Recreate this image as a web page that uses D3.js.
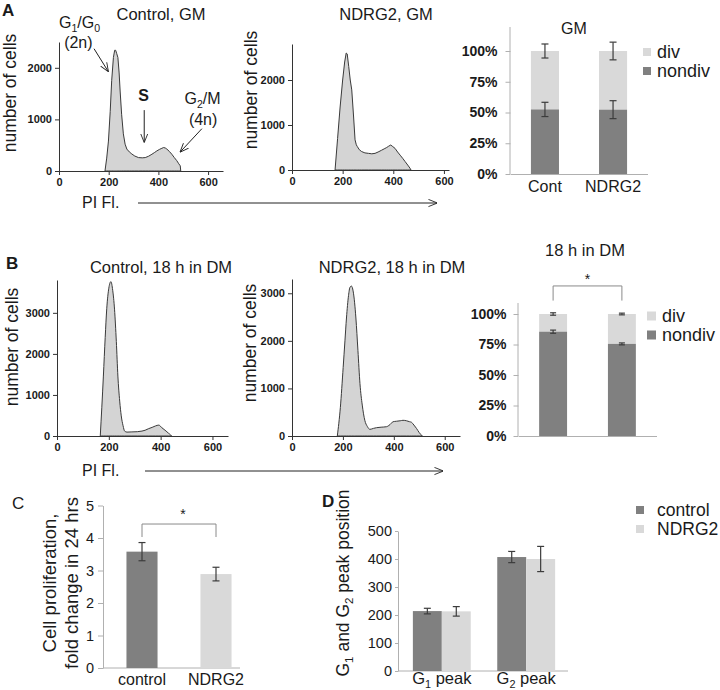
<!DOCTYPE html>
<html><head><meta charset="utf-8">
<script src="https://cdn.jsdelivr.net/npm/d3@7"></script>
<style>
body{margin:0;background:#fff;}
text{font-family:"Liberation Sans",Arial,sans-serif;}
</style></head><body>
<svg id="fig" width="720" height="690"></svg>
<script>
// ---------- DATA ----------
// Histogram A: Control, GM  (PI fluorescence, number of cells)
const histA1X = [185,192,199,206,212,219,224,228,232,237,242,246,252,259,266,273,283,293,305,320,335,347,360,374,385,394,405,414,421,428,434,444,454,464,474,482,488,490];
const histA1Y = [0,250,580,1150,1750,2200,2340,2340,2280,2200,1900,1550,1100,720,520,425,370,330,290,260,255,260,285,325,360,390,420,440,455,445,425,380,325,260,200,140,100,0];
// Histogram A: NDRG2, GM
const histA2X = [170,180,190,200,208,214,218,224,230,236,243,249,254,258,266,275,288,302,315,328,340,354,364,374,382,390,398,407,417,427,437,447,457,466,470];
const histA2Y = [0,700,1400,2000,2400,2600,2580,2300,2000,1780,1200,670,560,520,450,410,380,370,360,370,400,440,470,500,530,555,520,480,400,330,260,185,110,40,0];
// Histogram B: Control, 18 h in DM
const histB1X = [167,173,179,186,192,200,208,215,222,229,235,242,248,255,261,270,289,310,328,340,354,367,380,393,405,413,421,430,438,442];
const histB1Y = [0,700,1460,2400,3100,3600,3760,3550,3090,2300,1460,850,490,250,120,95,100,105,120,140,180,210,245,265,200,160,120,70,30,0];
// Histogram B: NDRG2, 18 h in DM
const histB2X = [178,190,201,208,214,222,228,234,240,246,251,259,267,276,286,296,306,320,332,350,371,385,397,410,425,436,450,462,469,479,489,500,512];
const histB2Y = [0,600,1440,2000,2480,2950,3130,3150,3050,2800,2480,1800,1100,650,330,200,140,160,175,185,195,240,300,310,320,330,320,300,290,230,160,70,0];
const histXTicks = [0,200,400,600];

// Stacked % bars
const stackSeries = ["div","nondiv"];
const gmCats = ["Cont","NDRG2"];
const gmNondiv = [52.5,52.3];
const gmNondivErr = [5.8,7.3];
const gmDivErr = [5.7,7.2];
const dmCats = ["Control","NDRG2"];
const dmNondiv = [85.5,75.5];
const dmNondivErr = [1.3,0.8];
const dmDivErr = [1.0,0.7];
const pctTicks = [0,25,50,75,100];

// C: proliferation
const propCats = ["control","NDRG2"];
const propVals = [3.58,2.89];
const propErr = [0.28,0.21];
const propTicks = [0,1,2,3,4,5];

// D: peak positions
const peakCats = ["G1 peak","G2 peak"];
const peakSeries = ["control","NDRG2"];
const peakControl = [214,407];
const peakNDRG2 = [213,400];
const peakControlErr = [10,20];
const peakNDRG2Err = [17,45];
const peakTicks = [0,100,200,300,400,500];

// ---------- DRAWING ----------
const INK = "#1a1a1a", DARK = "#808080", LIGHT = "#d9d9d9", AXG = "#b0b0b0", ERR = "#3c3c3c";
const svg = d3.select("#fig");
svg.append("rect").attr("width",720).attr("height",690).attr("fill","#fff");
const defs = svg.append("defs");
defs.append("marker").attr("id","arr").attr("viewBox","0 0 10 10").attr("refX",9.5).attr("refY",5)
  .attr("markerWidth",9).attr("markerHeight",9).attr("orient","auto").attr("markerUnits","userSpaceOnUse")
  .append("path").attr("d","M0,1 L10,5 L0,9").attr("fill","none").attr("stroke","#222").attr("stroke-width",1);

function rich(t, parts, fs){
  let shift = 0;
  parts.forEach(p=>{
    const target = p.sub ? fs*0.25 : 0;
    const s = t.append("tspan").text(p.t).attr("dy", target-shift);
    if(p.sub) s.attr("font-size", fs*0.66);
    shift = target;
  });
  return t;
}
function txt(x,y,s,fs,opts={}){
  const t = svg.append("text").attr("x",x).attr("y",y).attr("font-size",fs).attr("fill",INK)
    .attr("text-anchor",opts.anchor||"start");
  if(opts.bold) t.attr("font-weight","bold");
  if(opts.rotate) t.attr("transform",`rotate(-90,${x},${y})`);
  if(typeof s === "string") t.text(s); else rich(t,s,fs);
  return t;
}

function hist(cfg){
  const x = d3.scaleLinear().domain([0,cfg.xMax]).range(cfg.xRange);
  const y = d3.scaleLinear().domain([0,cfg.yMax]).range(cfg.yRange);
  const pts = cfg.xs.map((v,i)=>[v,cfg.ys[i]]);
  const area = d3.area().x(d=>x(d[0])).y0(y(0)).y1(d=>y(d[1])).curve(cfg.curve);
  svg.append("path").datum(pts).attr("d",area).attr("fill","#d4d4d4").attr("stroke","#3a3a3a").attr("stroke-width",1);
  const gy = svg.append("g").attr("transform",`translate(${x(0)},0)`)
    .call(d3.axisLeft(y).tickValues(cfg.yTicks).tickSize(4).tickSizeOuter(0).tickFormat(d3.format("d")));
  const gx = svg.append("g").attr("transform",`translate(0,${y(0)})`)
    .call(d3.axisBottom(x).tickValues(histXTicks).tickSize(4).tickSizeOuter(0));
  [gx,gy].forEach(g=>{
    g.selectAll("path,line").attr("stroke","#333");
    g.selectAll("text").attr("font-size",11).attr("font-weight","bold").attr("fill",INK)
      .attr("font-family","Liberation Sans, Arial, sans-serif");
  });
  return {x,y};
}

function errbar(x, y0, y1, w){
  svg.append("line").attr("x1",x).attr("x2",x).attr("y1",y0).attr("y2",y1).attr("stroke",ERR).attr("stroke-width",1.2);
  [y0,y1].forEach(yy=>svg.append("line").attr("x1",x-w/2).attr("x2",x+w/2).attr("y1",yy).attr("y2",yy).attr("stroke",ERR).attr("stroke-width",1.2));
}

function stacked(cfg){
  const x = d3.scaleBand().domain(cfg.cats).range(cfg.xRange).paddingInner(cfg.pi).paddingOuter(0.3);
  const y = d3.scaleLinear().domain([0,100]).range(cfg.yRange);
  const gy = svg.append("g").attr("transform",`translate(${cfg.xRange[0]},0)`)
    .call(d3.axisLeft(y).tickValues(pctTicks).tickSize(5).tickPadding(cfg.pad).tickSizeOuter(0).tickFormat(d=>d+"%"));
  gy.select(".domain").attr("d",`M-0.5,${y(0)}V${cfg.yTop}`);
  const gx = svg.append("g").attr("transform",`translate(0,${y(0)})`)
    .call(d3.axisBottom(x).tickSize(0).tickSizeOuter(0).tickPadding(7).tickFormat(cfg.labels ? (d=>d) : ()=>""));
  [gx,gy].forEach(g=>{ g.selectAll("path,line").attr("stroke",AXG); g.selectAll("text").attr("fill",INK).attr("font-family","Liberation Sans, Arial, sans-serif"); });
  gy.selectAll("text").attr("font-size",14).attr("font-weight","bold");
  gx.selectAll("text").attr("font-size",16);
  cfg.cats.forEach((c,i)=>{
    const nd = cfg.nondiv[i];
    svg.append("rect").attr("x",x(c)).attr("width",x.bandwidth()).attr("y",y(100)).attr("height",y(nd)-y(100)).attr("fill",LIGHT);
    svg.append("rect").attr("x",x(c)).attr("width",x.bandwidth()).attr("y",y(nd)).attr("height",y(0)-y(nd)).attr("fill",DARK);
    const cx = x(c)+x.bandwidth()/2;
    errbar(cx, y(100-cfg.divErr[i]), y(100+cfg.divErr[i]), cfg.cap);
    errbar(cx, y(nd-cfg.nondivErr[i]), y(nd+cfg.nondivErr[i]), cfg.cap);
  });
  // legend
  stackSeries.forEach((s,i)=>{
    const ly = cfg.legY + i*cfg.legGap;
    svg.append("rect").attr("x",cfg.legX).attr("y",ly-cfg.sw/2).attr("width",cfg.sw).attr("height",cfg.sw).attr("fill",s==="div"?LIGHT:DARK);
    txt(cfg.legX+cfg.sw+6, ly+6, s, 18);
  });
  return {x,y};
}

// ---------- Panel A ----------
txt(2,16,"A",17,{bold:true});
const a1 = hist({xs:histA1X, ys:histA1Y, xMax:660, xRange:[59,223], yMax:2500, yRange:[171,42], yTicks:[0,1000,2000], curve:d3.curveLinear});
txt(161,20,"Control, GM",16.5,{anchor:"middle"});
txt(16,93,"number of cells",17.5,{anchor:"middle",rotate:true});
// annotations
txt(a1.x(0),a1.y(2780),[{t:"G"},{t:"1",sub:true},{t:"/G"},{t:"0",sub:true}],16);
txt(a1.x(78),a1.y(2390),"(2n)",16,{anchor:"middle"});
svg.append("line").attr("x1",a1.x(141)).attr("y1",a1.y(2370)).attr("x2",a1.x(198)).attr("y2",a1.y(1930)).attr("stroke","#222").attr("marker-end","url(#arr)");
txt(a1.x(340),a1.y(1360),"S",16,{anchor:"middle",bold:true});
svg.append("line").attr("x1",a1.x(343)).attr("y1",a1.y(1180)).attr("x2",a1.x(343)).attr("y2",a1.y(560)).attr("stroke","#222").attr("marker-end","url(#arr)");
txt(a1.x(505),a1.y(1290),[{t:"G"},{t:"2",sub:true},{t:"/M"}],16);
txt(a1.x(580),a1.y(890),"(4n)",16,{anchor:"middle"});
svg.append("line").attr("x1",a1.x(575)).attr("y1",a1.y(820)).attr("x2",a1.x(488)).attr("y2",a1.y(370)).attr("stroke","#222").attr("marker-end","url(#arr)");
txt(82,208,"PI Fl.",16);
svg.append("line").attr("x1",138).attr("x2",437).attr("y1",203).attr("y2",203).attr("stroke","#222").attr("marker-end","url(#arr)");

hist({xs:histA2X, ys:histA2Y, xMax:620, xRange:[292,449], yMax:2800, yRange:[170,44], yTicks:[0,1000,2000], curve:d3.curveLinear});
txt(386,20,"NDRG2, GM",16.5,{anchor:"middle"});
txt(257,90,"number of cells",17.5,{anchor:"middle",rotate:true});

stacked({cats:gmCats, nondiv:gmNondiv, nondivErr:gmNondivErr, divErr:gmDivErr, xRange:[510.5,647.5], pi:0.588,
  yRange:[174,51], yTop:27, pad:8, labels:true, cap:7, legX:643, legY:52, legGap:19, sw:8});
txt(574,34,"GM",16,{anchor:"middle"});

// ---------- Panel B ----------
txt(6,269,"B",17,{bold:true});
hist({xs:histB1X, ys:histB1Y, xMax:660, xRange:[57,228], yMax:3800, yRange:[436,280], yTicks:[0,1000,2000,3000], curve:d3.curveMonotoneX});
txt(161,273,"Control, 18 h in DM",16.5,{anchor:"middle"});
txt(18,347,"number of cells",17.5,{anchor:"middle",rotate:true});
txt(82,476,"PI Fl.",16);
svg.append("line").attr("x1",145).attr("x2",443).attr("y1",471).attr("y2",471).attr("stroke","#222").attr("marker-end","url(#arr)");

hist({xs:histB2X, ys:histB2Y, xMax:660, xRange:[292,460], yMax:3300, yRange:[436,279], yTicks:[0,1000,2000,3000], curve:d3.curveMonotoneX});
txt(392,273,"NDRG2, 18 h in DM",16.5,{anchor:"middle"});
txt(256,343,"number of cells",17.5,{anchor:"middle",rotate:true});

const bR = stacked({cats:dmCats, nondiv:dmNondiv, nondivErr:dmNondivErr, divErr:dmDivErr, xRange:[518.5,656.5], pi:0.594,
  yRange:[436,314], yTop:303, pad:7, labels:false, cap:6, legX:647, legY:316, legGap:19, sw:9});
txt(585,256,"18 h in DM",16.5,{anchor:"middle"});
{
  const c0 = bR.x(dmCats[0])+bR.x.bandwidth()/2, c1 = bR.x(dmCats[1])+bR.x.bandwidth()/2;
  svg.append("path").attr("d",`M${c0},${bR.y(111)}V${bR.y(123)}H${c1}V${bR.y(111)}`).attr("fill","none").attr("stroke","#8a8a8a");
  txt((c0+c1)/2,bR.y(124.5),"*",14,{anchor:"middle"});
}

// ---------- Panel C ----------
txt(12,509,"C",17,{});
{
  const x = d3.scaleBand().domain(propCats).range([105,253]).paddingInner(0.58).paddingOuter(0.29);
  const y = d3.scaleLinear().domain([0,5]).range([668,505.5]);
  const gy = svg.append("g").attr("transform","translate(103,0)")
    .call(d3.axisLeft(y).tickValues(propTicks).tickSize(5).tickPadding(4).tickSizeOuter(0).tickFormat(d3.format("d")));
  svg.append("line").attr("x1",103).attr("x2",240).attr("y1",y(0)).attr("y2",y(0)).attr("stroke",AXG);
  gy.selectAll("path,line").attr("stroke",AXG);
  gy.selectAll("text").attr("font-size",14.5).attr("fill",INK).attr("font-family","Liberation Sans, Arial, sans-serif");
  propCats.forEach((c,i)=>{
    svg.append("rect").attr("x",x(c)).attr("width",x.bandwidth()).attr("y",y(propVals[i])).attr("height",y(0)-y(propVals[i])).attr("fill",i===0?DARK:LIGHT);
    const cx = x(c)+x.bandwidth()/2;
    errbar(cx, y(propVals[i]-propErr[i]), y(propVals[i]+propErr[i]), 7);
    txt(cx,685,c,16,{anchor:"middle"});
  });
  const c0 = x(propCats[0])+x.bandwidth()/2, c1 = x(propCats[1])+x.bandwidth()/2;
  svg.append("path").attr("d",`M${c0},${y(4.03)}V${y(4.43)}H${c1}V${y(4.03)}`).attr("fill","none").attr("stroke","#8a8a8a");
  txt(183,y(4.57),"*",14,{anchor:"middle"});
  txt(56,583,"Cell proliferation,",18.5,{anchor:"middle",rotate:true});
  txt(78,583,"fold change in 24 hrs",18.5,{anchor:"middle",rotate:true});
}

// ---------- Panel D ----------
txt(322,507,"D",17,{bold:true});
{
  const x0 = d3.scaleBand().domain(peakCats).range([396,572]).paddingInner(0.314).paddingOuter(0.2);
  const x1 = d3.scaleBand().domain(peakSeries).range([0,x0.bandwidth()]);
  const y = d3.scaleLinear().domain([0,500]).range([671,531]);
  const gy = svg.append("g").attr("transform","translate(398,0)")
    .call(d3.axisLeft(y).tickValues(peakTicks).tickSize(3).tickPadding(3).tickSizeOuter(0));
  svg.append("line").attr("x1",398).attr("x2",568).attr("y1",y(0)).attr("y2",y(0)).attr("stroke",AXG);
  gy.selectAll("path,line").attr("stroke",AXG);
  gy.selectAll("text").attr("font-size",14.5).attr("fill",INK).attr("font-family","Liberation Sans, Arial, sans-serif");
  const vals = [peakControl, peakNDRG2], errs = [peakControlErr, peakNDRG2Err];
  peakCats.forEach((c,i)=>{
    peakSeries.forEach((s,j)=>{
      const v = vals[j][i], e = errs[j][i];
      const bx = x0(c)+x1(s);
      svg.append("rect").attr("x",bx).attr("width",x1.bandwidth()).attr("y",y(v)).attr("height",y(0)-y(v)).attr("fill",j===0?DARK:LIGHT);
      errbar(bx+x1.bandwidth()/2, y(v-e), y(v+e), 7);
    });
    const parts = c.split(" ");
    txt(x0(c)+x0.bandwidth()/2,684,[{t:parts[0][0]},{t:parts[0].slice(1),sub:true},{t:" "+parts[1]}],16.5,{anchor:"middle"});
  });
  txt(349,583,[{t:"G"},{t:"1",sub:true},{t:" and G"},{t:"2",sub:true},{t:" peak position"}],17.5,{anchor:"middle",rotate:true});
  peakSeries.forEach((s,j)=>{
    const ly = 510 + j*19;
    svg.append("rect").attr("x",636).attr("y",ly-4).attr("width",8).attr("height",8).attr("fill",j===0?DARK:LIGHT);
    txt(657,ly+6,s,17.5);
  });
}
</script>
</body></html>
